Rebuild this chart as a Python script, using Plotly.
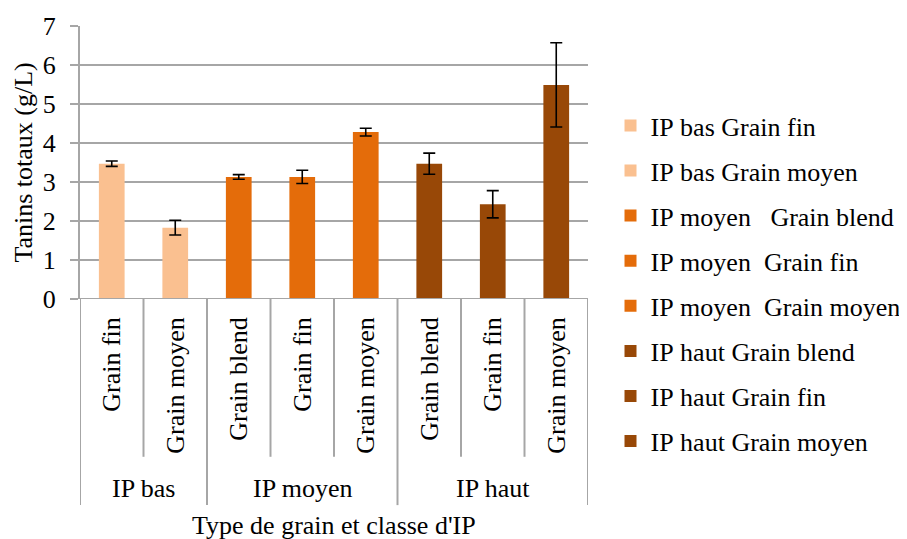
import plotly.graph_objects as go

groups = ["IP bas", "IP bas", "IP moyen", "IP moyen", "IP moyen", "IP haut", "IP haut", "IP haut"]
grains = ["Grain fin", "Grain moyen", "Grain blend", "Grain fin", "Grain moyen",
          "Grain blend", "Grain fin", "Grain moyen"]
series_names = ["IP bas Grain fin", "IP bas Grain moyen", "IP moyen   Grain blend",
                "IP moyen  Grain fin", "IP moyen  Grain moyen", "IP haut Grain blend",
                "IP haut Grain fin", "IP haut Grain moyen"]
values = [3.47, 1.83, 3.13, 3.13, 4.28, 3.47, 2.43, 5.49]
errors = [0.07, 0.19, 0.06, 0.17, 0.10, 0.27, 0.35, 1.08]
group_labels = ["IP bas", "IP moyen", "IP haut"]

colors = {"IP bas": "#FAC090", "IP moyen": "#E46C0A", "IP haut": "#984807"}
FONT = "Liberation Serif, Times New Roman, serif"
FS = 26
GRID = "#A6A6A6"

fig = go.Figure()
for i, (g, name, v, e) in enumerate(zip(groups, series_names, values, errors)):
    fig.add_trace(go.Bar(
        x=[i], y=[v], name=name.replace(" ", "\u00a0"),
        marker=dict(color=colors[g], line=dict(width=0)),
        width=0.405,
        error_y=dict(type="data", array=[e], visible=True, color="black",
                     thickness=1.6, width=6),
        legendgroup=f"g{i}",
    ))

n = len(values)
shapes = []
bounds = [i + 0.5 for i in range(n - 1)]
group_edges = [-0.5]
acc = -0.5
for gl in group_labels:
    acc += groups.count(gl)
    group_edges.append(acc)
for b in bounds:
    if b not in group_edges:
        shapes.append(dict(type="line", xref="x", yref="paper", x0=b, x1=b, y0=0, y1=-0.578,
                           line=dict(color=GRID, width=2)))
for b in group_edges:
    shapes.append(dict(type="line", xref="x", yref="paper", x0=b, x1=b, y0=0, y1=-0.755,
                       line=dict(color=GRID, width=2)))

annotations = []
acc = -0.5
for gl in group_labels:
    c = groups.count(gl)
    annotations.append(dict(x=acc + c / 2, y=-0.695, xref="x", yref="paper", text=gl,
                            showarrow=False, yanchor="middle", xanchor="center",
                            font=dict(family=FONT, size=FS, color="black")))
    acc += c
annotations.append(dict(x=0.5, y=-0.828, xref="paper", yref="paper",
                        text="Type de grain et classe d'IP", showarrow=False,
                        yanchor="middle", xanchor="center",
                        font=dict(family=FONT, size=FS, color="black")))
annotations.append(dict(x=-0.112, y=0.5, xref="paper", yref="paper",
                        text="Tanins totaux (g/L)", showarrow=False, textangle=-90,
                        yanchor="middle", xanchor="center",
                        font=dict(family=FONT, size=FS, color="black")))

fig.update_layout(
    width=907, height=539,
    margin=dict(l=72, r=327, t=18, b=248, autoexpand=False),
    paper_bgcolor="white", plot_bgcolor="white",
    barmode="overlay",
    font=dict(family=FONT, size=FS, color="black"),
    showlegend=True,
    legend=dict(x=1.0443, y=1.0 - (128 - 26 - 22) / 273 + 4 / 273, xanchor="left", yanchor="top",
                traceorder="grouped", tracegroupgap=8.3, maxheight=520,
                font=dict(family=FONT, size=FS, color="black"),
                bgcolor="rgba(0,0,0,0)"),
    shapes=shapes,
    annotations=annotations,
    xaxis=dict(range=[-0.5, n - 0.5], tickmode="array", tickvals=list(range(n)),
               ticktext=grains, tickangle=-90, showgrid=False, zeroline=False,
               showline=False, ticks="", ticklabelstandoff=12,
               tickfont=dict(family=FONT, size=FS, color="black")),
    yaxis=dict(range=[0, 7], dtick=1, showgrid=True, gridcolor=GRID, gridwidth=2,
               zeroline=False, showline=True, linecolor=GRID, linewidth=2,
               ticks="outside", ticklen=8, tickcolor=GRID, tickwidth=2,
               ticklabelstandoff=9,
               tickfont=dict(family=FONT, size=FS, color="black")),
)
fig.add_hline(y=0, line=dict(color=GRID, width=2))

fig.write_html("out.html")
